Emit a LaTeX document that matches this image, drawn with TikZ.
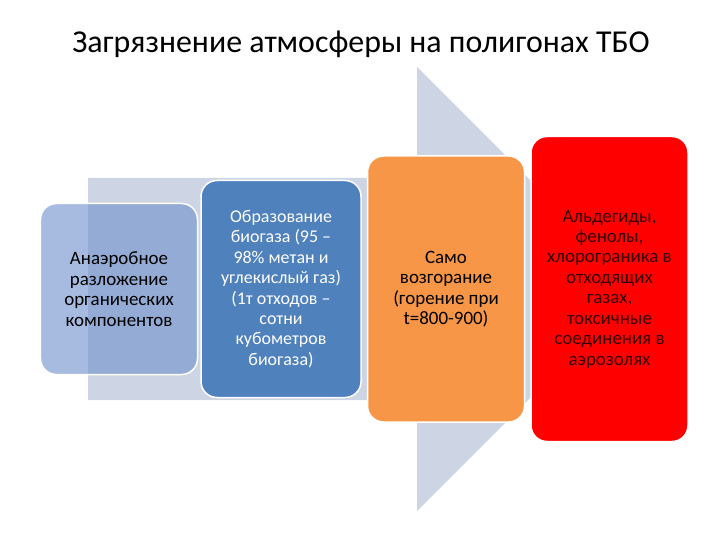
\documentclass[tikz,border=0pt]{standalone}
\usepackage{fontspec}
\setmainfont{Carlito}
\usetikzlibrary{positioning}
\definecolor{arrowgray}{RGB}{205,212,228}
\definecolor{paleblue}{RGB}{112,146,204}
\definecolor{officeblue}{RGB}{79,129,189}
\definecolor{officeorange}{RGB}{247,150,70}
\definecolor{darkred}{RGB}{55,0,0}

\begin{document}
\begin{tikzpicture}[x=1bp, y=-1bp,
    stage/.style={rectangle, rounded corners=16bp, draw=white, line width=1.5bp,
      minimum width=157bp, align=center, inner sep=4bp,
      font=\fontsize{19}{20.5}\selectfont}]
    \useasboundingbox (0,0) rectangle (720,540);
    \fill[arrowgray] (88,178) -- (417,178) -- (417,67) -- (639,289)
                     -- (417,511) -- (417,400) -- (88,400) -- cycle;
    \node [font=\fontsize{32}{38}\selectfont] (title) at (361,44)
          {Загрязнение атмосферы на полигонах ТБО};
    \node [stage, fill=paleblue, fill opacity=.62, text opacity=1,
           minimum height=171bp] (anaer) at (119,289)
          {Анаэробное\\ разложение\\ органических\\ компонентов};
    \node [stage, fill=officeblue, text=white, minimum width=160bp,
           minimum height=217bp, font=\fontsize{18}{20.5}\selectfont]
          [right=2bp of anaer] (biogas)
          {Образование\\ биогаза (95 --\\ 98\% метан и\\ углекислый газ)\\
           (1т отходов --\\ сотни\\ кубометров\\ биогаза)};
    \node [stage, fill=officeorange, minimum height=266bp]
          [right=5bp of biogas] (fire)
          {Само\\ возгорание\\ (горение при\\ t=800-900)};
    \node [stage, fill=red, text=darkred, minimum height=305bp]
          [right=5bp of fire] (gases)
          {Альдегиды,\\ фенолы,\\ хлорограника в\\ отходящих\\ газах,\\
           токсичные\\ соединения в\\ аэрозолях};
  \end{tikzpicture}
\end{document}
